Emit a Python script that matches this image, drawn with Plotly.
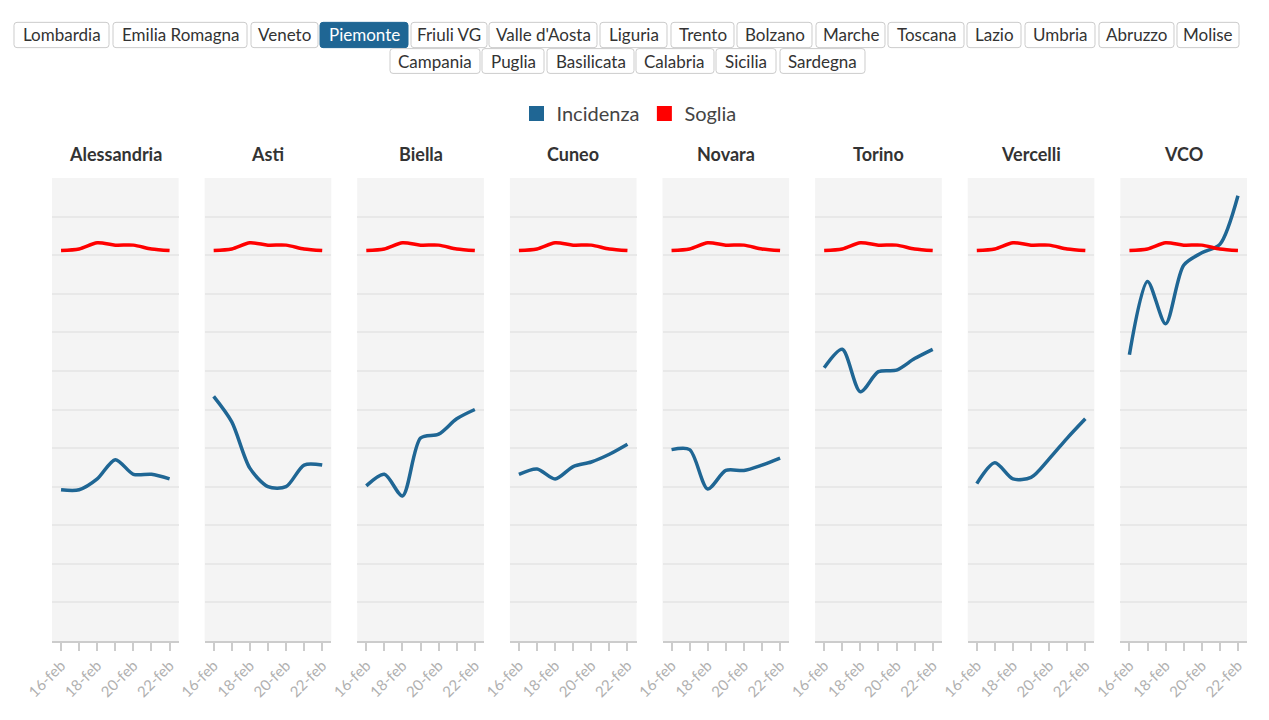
import plotly.graph_objects as go
from plotly.subplots import make_subplots

# Dati: incidenza settimanale per provincia (Piemonte) e soglia
PROVINCE = ["Alessandria", "Asti", "Biella", "Cuneo", "Novara", "Torino", "Vercelli", "VCO"]
GIORNI = ["2021-02-16", "2021-02-17", "2021-02-18", "2021-02-19",
          "2021-02-20", "2021-02-21", "2021-02-22"]
ETICHETTE = ["16-feb", "", "18-feb", "", "20-feb", "", "22-feb"]

SOGLIA = [253, 254, 258, 256.5, 256.5, 254, 253]

INC_ALESSANDRIA = [98, 98, 105, 117.5, 108, 108, 105]
INC_ASTI = [158.5, 142, 112, 100, 100, 114, 114]
INC_BIELLA = [100.5, 108, 94, 131.5, 134, 144, 150]
INC_CUNEO = [108, 111.5, 105, 113, 116, 121, 127.5]
INC_NOVARA = [124, 124, 98.5, 110.5, 110.5, 114, 118.5]
INC_TORINO = [177, 189, 161.5, 174.5, 175.5, 183, 189]
INC_VERCELLI = [102, 115.5, 105, 106, 118, 131.5, 144]
INC_VCO = [185.5, 233, 205.5, 243.5, 251.5, 257, 288.5]

INCIDENZA = [INC_ALESSANDRIA, INC_ASTI, INC_BIELLA, INC_CUNEO,
             INC_NOVARA, INC_TORINO, INC_VERCELLI, INC_VCO]

REGIONI_RIGA1 = ["Lombardia", "Emilia Romagna", "Veneto", "Piemonte", "Friuli VG",
                 "Valle d'Aosta", "Liguria", "Trento", "Bolzano", "Marche", "Toscana",
                 "Lazio", "Umbria", "Abruzzo", "Molise"]
REGIONI_RIGA2 = ["Campania", "Puglia", "Basilicata", "Calabria", "Sicilia", "Sardegna"]
REGIONE_ATTIVA = "Piemonte"

# bordi (pixel della pagina) dei pulsanti, solo impaginazione
BORDI_RIGA1 = [(14, 109), (113, 247), (251, 318), (320, 408), (411, 487), (489, 597),
               (600, 667), (671, 734), (737, 812), (816, 885), (888, 964), (967, 1021),
               (1025, 1095), (1099, 1174), (1177, 1239)]
BORDI_RIGA2 = [(390, 480), (482, 544), (547, 634), (636, 714), (716, 776), (780, 865)]

BLU = "#1f6694"
ROSSO = "#ff0000"
FONT = "Lato"

# il body della pagina ha un margine di 8px: la figura parte da (8, 8)
OFF = 8
W, H = 1269 - 2 * OFF, 720 - 2 * OFF
# area del grafico in pixel della pagina
L, R, T, B = 52, 1247, 178, 645


def px_x(p):
    return (p - L) / (R - L)


def px_y(p):
    return (B - p) / (B - T)


def rettangolo_arrotondato(x0, y0, x1, y1, r=3):
    pts = [("M", x0 + r, y0), ("L", x1 - r, y0), ("Q", x1, y0, x1, y0 + r),
           ("L", x1, y1 - r), ("Q", x1, y1, x1 - r, y1), ("L", x0 + r, y1),
           ("Q", x0, y1, x0, y1 - r), ("L", x0, y0 + r), ("Q", x0, y0, x0 + r, y0)]
    path = ""
    for p in pts:
        coords = p[1:]
        s = " ".join(f"{px_x(coords[i]):.5f},{px_y(coords[i + 1]):.5f}"
                     for i in range(0, len(coords), 2))
        path += f"{p[0]}{s} "
    return path + "Z"


fig = make_subplots(rows=1, cols=8, horizontal_spacing=26 / (R - L))

for i, prov in enumerate(PROVINCE):
    col = i + 1
    fig.add_trace(go.Scatter(x=GIORNI, y=INCIDENZA[i], mode="lines", name="Incidenza",
                             legendgroup="inc", showlegend=False,
                             line=dict(color=BLU, width=3.5, shape="spline", smoothing=0.8)),
                  row=1, col=col)
    fig.add_trace(go.Scatter(x=GIORNI, y=SOGLIA, mode="lines", name="Soglia",
                             legendgroup="soglia", showlegend=False,
                             line=dict(color=ROSSO, width=3.5, shape="spline", smoothing=0.8)),
                  row=1, col=col)
    fig.add_annotation(text=f"<b>{prov}</b>", xref=f"x{'' if col == 1 else col} domain",
                       x=0.5, yref="paper", y=px_y(154), yanchor="middle",
                       showarrow=False, font=dict(family=FONT, size=18, color="#333333"))

# voci della legenda
for nome, colore, gruppo in [("Incidenza", BLU, "inc"), ("Soglia", ROSSO, "soglia")]:
    fig.add_trace(go.Scatter(x=[None], y=[None], mode="markers", name=nome, legendgroup=gruppo,
                             marker=dict(symbol="square", size=15, color=colore)))

fig.update_xaxes(range=["2021-02-15 12:00", "2021-02-22 12:00"], tickvals=GIORNI, ticktext=ETICHETTE,
                 tickangle=-45, tickfont=dict(family=FONT, size=15, color="#b0b0b0"),
                 ticks="outside", ticklen=8, tickwidth=1.5, tickcolor="#cccccc",
                 showline=True, linecolor="#cccccc", linewidth=2, showgrid=False, zeroline=False,
                 fixedrange=True)
fig.update_yaxes(range=[0, 300], dtick=25, showticklabels=False, showgrid=True,
                 gridcolor="#e8e8e8", gridwidth=2, zeroline=False, fixedrange=True)

# pulsanti delle regioni
for nomi, bordi, (ytop, ybot) in [(REGIONI_RIGA1, BORDI_RIGA1, (21, 46.5)),
                                   (REGIONI_RIGA2, BORDI_RIGA2, (47.5, 72.5))]:
    for nome, (x0, x1) in zip(nomi, bordi):
        attiva = nome == REGIONE_ATTIVA
        fig.add_shape(type="path", xref="paper", yref="paper",
                      path=rettangolo_arrotondato(x0, ytop, x1, ybot),
                      fillcolor=BLU if attiva else "white",
                      line=dict(color=BLU if attiva else "#cccccc", width=1))
        fig.add_annotation(text=nome, xref="paper", yref="paper",
                           x=px_x((x0 + x1) / 2), y=px_y((ytop + ybot) / 2),
                           xanchor="center", yanchor="middle", showarrow=False,
                           font=dict(family=FONT, size=17, color="white" if attiva else "#333333"))

# linea sottile in alto
fig.add_shape(type="line", xref="paper", yref="paper", x0=px_x(0), x1=px_x(1269),
              y0=px_y(6), y1=px_y(6), line=dict(color="#e6e6e6", width=1))

fig.update_layout(
    width=W, height=H,
    margin=dict(l=L - OFF, r=W - (R - OFF), t=T - OFF, b=H - (B - OFF)),
    paper_bgcolor="white", plot_bgcolor="#f4f4f4",
    font=dict(family=FONT, color="#333333"),
    showlegend=True,
    legend=dict(orientation="h", x=px_x(629), xanchor="center", y=px_y(113), yanchor="middle",
                font=dict(family=FONT, size=20, color="#444444"), bgcolor="rgba(0,0,0,0)"),
    hovermode="x unified",
)

fig.write_html("out.html")
